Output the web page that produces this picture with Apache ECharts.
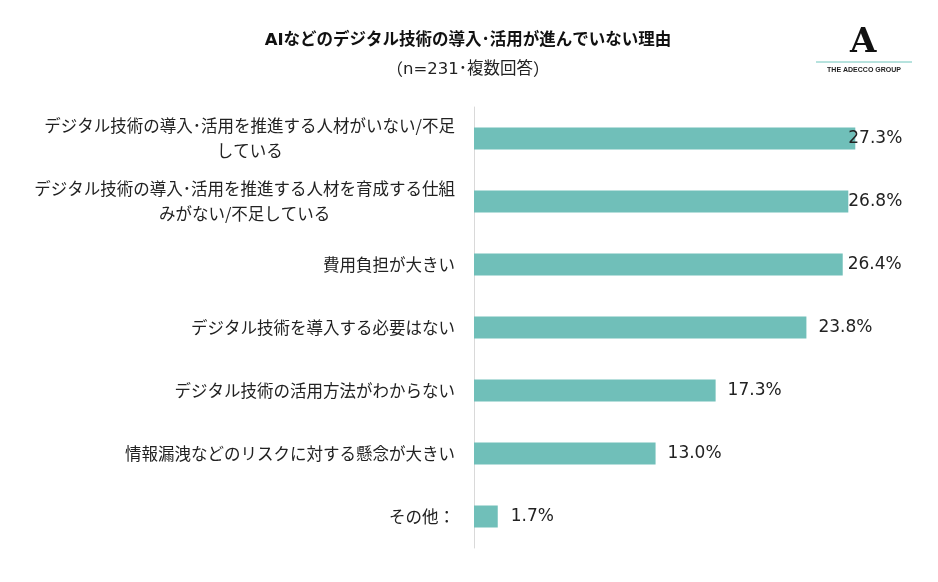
<!DOCTYPE html>
<html>
<head>
<meta charset="utf-8">
<script src="https://cdn.jsdelivr.net/npm/echarts@6/dist/echarts.min.js"></script>
<style>
  html, body { margin: 0; padding: 0; background: #fff; }
  #main { width: 938px; height: 582px; }
</style>
</head>
<body>
<div id="main"></div>
<script>
// 理由（上から順）
var categories = [
    'デジタル技術の導入･活用を推進する人材がいない/不足\nしている',
    'デジタル技術の導入･活用を推進する人材を育成する仕組\nみがない/不足している',
    '費用負担が大きい',
    'デジタル技術を導入する必要はない',
    'デジタル技術の活用方法がわからない',
    '情報漏洩などのリスクに対する懸念が大きい',
    'その他：'
];
// 割合（%）
var values = [27.3, 26.8, 26.4, 23.8, 17.3, 13.0, 1.7];

// ラベルと棒の間隔（元画像に合わせて上の3本だけ詰める）
var labelGap = [-7, 0, 5, 12, 12, 12, 13];

var myChart = echarts.init(document.getElementById('main'));

var fontJP = '"Noto Sans CJK JP", "Noto Sans", sans-serif';
var fontNum = '"DejaVu Sans", "Noto Sans CJK JP", sans-serif';
var labelSize = 16.5;

// 2行ラベルの2行目を1行目の中央に揃えるための余白を計算
var ctx = document.createElement('canvas').getContext('2d');
ctx.font = labelSize + 'px ' + fontJP;
var rich = {};
categories.forEach(function (c, i) {
    var lines = c.split('\n');
    if (lines.length > 1) {
        var pad = (ctx.measureText(lines[0]).width - ctx.measureText(lines[1]).width) / 2;
        rich['p' + i] = { width: Math.max(0, pad), height: 1 };
    }
});

var option = {
    backgroundColor: '#fff',
    textStyle: { fontFamily: fontJP },
    title: {
        text: 'AIなどのデジタル技術の導入･活用が進んでいない理由',
        subtext: '{k|（}n=231･複数回答{k|）}',
        left: 463,
        top: 27,
        textAlign: 'center',
        itemGap: 13,
        textStyle: { fontSize: 16.5, fontWeight: 'bold', color: '#111', fontFamily: fontNum },
        subtextStyle: {
            fontSize: 16.5, color: '#222', fontFamily: fontNum,
            rich: { k: { fontSize: 16.5, color: '#222', fontFamily: fontJP } }
        }
    },
    grid: {
        left: 474,
        right: 45,
        top: 107,
        bottom: 34,
        containLabel: false
    },
    xAxis: {
        type: 'value',
        min: 0,
        max: 30,
        show: false
    },
    yAxis: {
        type: 'category',
        inverse: true,
        data: categories,
        axisLine: { show: true, lineStyle: { color: '#d9d9d9', width: 1 } },
        axisTick: { show: false },
        axisLabel: {
            margin: 19,
            fontSize: labelSize,
            color: '#222',
            lineHeight: 25,
            formatter: function (v, i) {
                if (v.indexOf('\n') < 0) return v;
                var lines = v.split('\n');
                return lines[0] + '\n' + lines[1] + '{p' + i + '|}';
            },
            rich: rich
        }
    },
    series: [{
        type: 'bar',
        barWidth: 22,
        itemStyle: { color: '#70bfb9' },
        data: values.map(function (v, i) {
            return { value: v, label: { distance: labelGap[i] } };
        }),
        label: {
            show: true,
            position: 'right',
            fontSize: 17,
            color: '#222',
            fontFamily: fontNum,
            formatter: function (p) { return p.value.toFixed(1) + '%'; }
        },
        silent: true
    }],
    graphic: [
        {
            type: 'text',
            left: 850,
            top: 26,
            style: { text: 'A', fontSize: 34, fontWeight: 'bold', fill: '#111', fontFamily: 'DejaVu Serif' }
        },
        {
            type: 'line',
            shape: { x1: 816, y1: 62, x2: 912, y2: 62 },
            style: { stroke: '#6fc6bd', lineWidth: 1 }
        },
        {
            type: 'text',
            x: 864,
            y: 67,
            style: {
                text: 'THE ADECCO GROUP',
                fontSize: 7,
                fontWeight: 'bold',
                fill: '#222',
                align: 'center',
                fontFamily: 'Liberation Sans'
            }
        }
    ]
};

myChart.setOption(option);
</script>
</body>
</html>
